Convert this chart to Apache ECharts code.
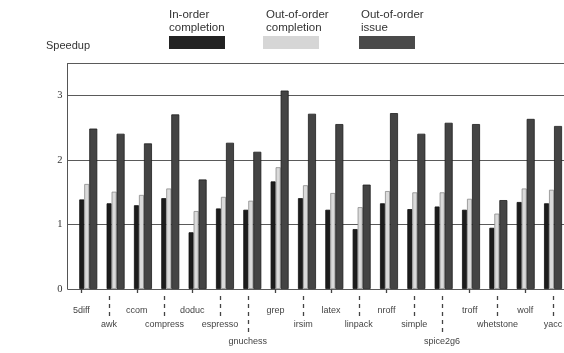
<!DOCTYPE html>
<html>
<head>
<meta charset="utf-8">
<script src="https://cdn.jsdelivr.net/npm/echarts@6/dist/echarts.min.js"></script>
<style>
html,body{margin:0;padding:0;background:#fff;}
#chart{width:564px;height:353px;}
</style>
</head>
<body>
<div id="chart"></div>
<script>
const categories = ['5diff','awk','ccom','compress','doduc','espresso','gnuchess','grep','irsim','latex','linpack','nroff','simple','spice2g6','troff','whetstone','wolf','yacc'];
const inOrder       = [1.39,1.33,1.30,1.41,0.88,1.25,1.23,1.67,1.41,1.23,0.93,1.33,1.24,1.28,1.23,0.95,1.35,1.33];
const oooCompletion = [1.63,1.51,1.46,1.56,1.21,1.43,1.37,1.89,1.61,1.49,1.27,1.52,1.50,1.50,1.40,1.17,1.56,1.54];
const oooIssue      = [2.49,2.41,2.26,2.71,1.70,2.27,2.13,3.08,2.72,2.56,1.62,2.73,2.41,2.58,2.56,1.38,2.64,2.53];
const labelRow      = [1,2,1,2,1,2,3,1,2,1,2,1,2,3,1,2,1,2];
const seriesNames   = ['In-order completion','Out-of-order completion','Out-of-order issue'];
const legendText    = ['In-order\ncompletion','Out-of-order\ncompletion','Out-of-order\nissue'];
const yMin = 0, yMax = 3.5, yStep = 1;

const chart = echarts.init(document.getElementById('chart'), null, {renderer:'canvas'});
const sans = 'Liberation Sans, Arial, sans-serif';

const rowCfg = [
  {row:1, len:6,  margin:10},
  {row:2, len:21, margin:24},
  {row:3, len:37, margin:41}
];
const labelAxes = rowCfg.map(c => ({
  type:'category', data:categories, gridIndex:1, position:'bottom', offset:7,
  axisLine:{show:false},
  axisTick:{show:true, alignWithLabel:true, length:c.len,
    interval:(i)=>labelRow[i]===c.row,
    lineStyle:{color:'#444', width:1.3, type:[4,4]}},
  axisLabel:{show:true, margin:c.margin, fontSize:9, fontFamily:sans, color:'#444',
    interval:(i)=>labelRow[i]===c.row},
  splitLine:{show:false}
}));

const colors = ['#1c1c1c','#dadada','#444444'];
const borders = ['#111111','#8a8a8a','#1e1e1e'];
const legendColors = ['#222222','#d6d6d6','#4a4a4a'];
const widths = [5,5,8];
const dataSets = [inOrder, oooCompletion, oooIssue];

const option = {
  backgroundColor:'#ffffff',
  animation:false,
  title:[
    {text:'Speedup', left:46, top:40, padding:0, textStyle:{fontSize:11, fontWeight:'normal', fontFamily:sans, color:'#333'}},
    {text:legendText[0], left:169, top:8, padding:0, textStyle:{fontSize:11.5, lineHeight:13, fontWeight:'normal', fontFamily:sans, color:'#333'}},
    {text:legendText[1], left:266, top:8, padding:0, textStyle:{fontSize:11.5, lineHeight:13, fontWeight:'normal', fontFamily:sans, color:'#333'}},
    {text:legendText[2], left:361, top:8, padding:0, textStyle:{fontSize:11.5, lineHeight:13, fontWeight:'normal', fontFamily:sans, color:'#333'}}
  ],
  legend:[169,263,359].map((x,i)=>({
    data:[seriesNames[i]], left:x, top:36, padding:0, itemWidth:56, itemHeight:13,
    icon:'rect', formatter:()=>'', selectedMode:false, textStyle:{fontSize:1},
    itemStyle:{color:legendColors[i], borderWidth:0}
  })),
  grid:[
    {left:74.6, right:-2.7, top:63.5, bottom:64, outerBoundsMode:'none'},
    {left:67.5, right:-2.8, top:63.5, bottom:64, outerBoundsMode:'none'}
  ],
  xAxis:[
    {type:'category', data:categories, gridIndex:0, position:'bottom', show:false}
  ].concat(labelAxes),
  yAxis:[
    {type:'value', gridIndex:0, min:yMin, max:yMax, interval:yStep, show:false},
    {type:'value', gridIndex:1, min:yMin, max:yMax, interval:yStep,
      axisLine:{show:true, lineStyle:{color:'#555', width:1}},
      axisTick:{show:false},
      axisLabel:{margin:5, fontSize:10.5, fontFamily:'Liberation Serif, serif', color:'#333',
        formatter:(v)=> (v % 1 === 0 ? String(v) : '')},
      splitLine:{show:true, lineStyle:{color:'#5a5a5a', width:1}}
    }
  ],
  series: dataSets.map((d,i)=>({
    name:seriesNames[i], type:'bar', xAxisIndex:0, yAxisIndex:0,
    data:d, barWidth:widths[i], barGap:'0%',
    itemStyle:{color:colors[i], borderColor:borders[i], borderWidth:0.8},
    emphasis:{disabled:true}
  }))
};
chart.setOption(option);
</script>
</body>
</html>
